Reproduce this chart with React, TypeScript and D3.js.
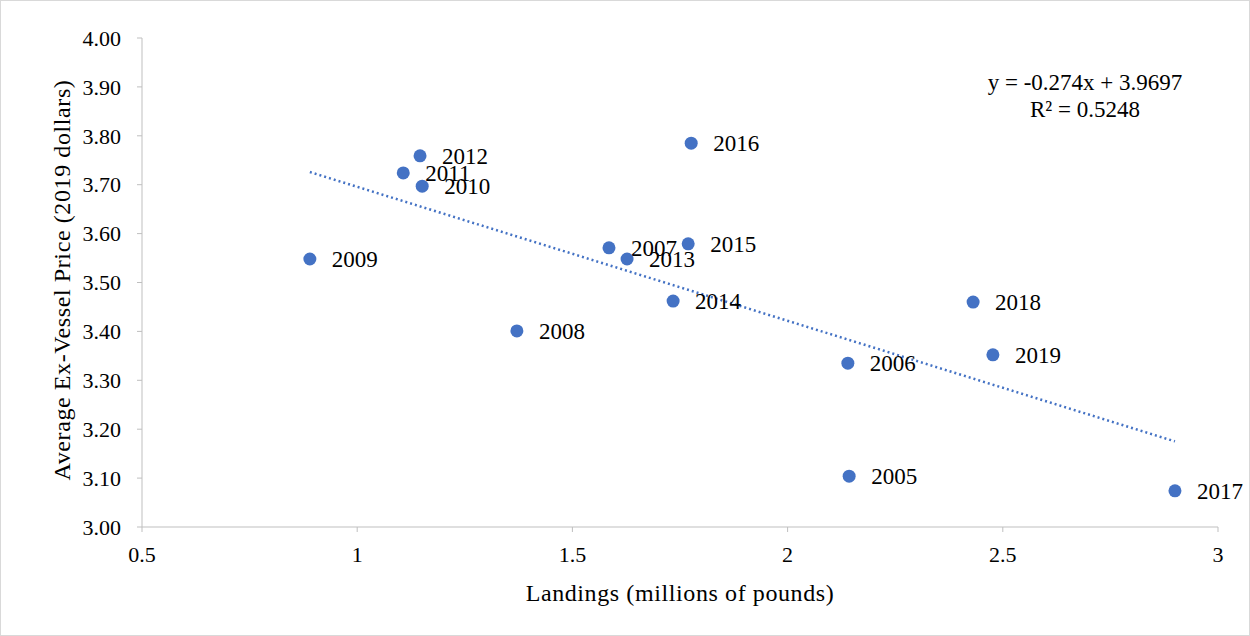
import * as d3 from 'd3';

const years = ['2005','2006','2007','2008','2009','2010','2011','2012','2013','2014','2015','2016','2017','2018','2019'];
const landings = [2.143, 2.140, 1.585, 1.371, 0.890, 1.151, 1.107, 1.146, 1.627, 1.734, 1.769, 1.776, 2.900, 2.431, 2.477];
const prices = [3.104, 3.335, 3.571, 3.401, 3.548, 3.697, 3.724, 3.759, 3.548, 3.462, 3.579, 3.785, 3.074, 3.460, 3.352];
const xTicks = [0.5, 1, 1.5, 2, 2.5, 3];
const yTicks = [3.0, 3.1, 3.2, 3.3, 3.4, 3.5, 3.6, 3.7, 3.8, 3.9, 4.0];
const slope = -0.274;
const intercept = 3.9697;

const W = 1250, H = 636;
const font = '"Liberation Serif", "Times New Roman", serif';

export default function App() {
  const x = d3.scaleLinear().domain([0.5, 3]).range([142, 1218]);
  const y = d3.scaleLinear().domain([3, 4]).range([527, 38]);
  const [x0, x1] = d3.extent(landings) as [number, number];
  const trend = d3.line<number>().x((v) => x(v)).y((v) => y(slope * v + intercept));
  return (
    <svg width={W} height={H} style={{ position: 'absolute', left: 0, top: 0 }} fontFamily={font}>
      <rect x={0.5} y={0.5} width={W - 1} height={H - 1} fill="#fff" stroke="#d9d9d9" />
      <line x1={142} x2={142} y1={38} y2={527} stroke="#bfbfbf" />
      <line x1={142} x2={1218} y1={527} y2={527} stroke="#bfbfbf" />
      {yTicks.map((t) => (
        <g key={t}>
          <line x1={137} x2={142} y1={y(t)} y2={y(t)} stroke="#bfbfbf" />
          <text x={121} y={y(t)} dy="0.35em" textAnchor="end" fontSize={22} fill="#000">{t.toFixed(2)}</text>
        </g>
      ))}
      {xTicks.map((t) => (
        <g key={t}>
          <line x1={x(t)} x2={x(t)} y1={527} y2={532} stroke="#bfbfbf" />
          <text x={x(t)} y={562} textAnchor="middle" fontSize={22}>{t}</text>
        </g>
      ))}
      <text x={680} y={601} textAnchor="middle" fontSize={24} letterSpacing={0.6}>Landings (millions of pounds)</text>
      <text transform="translate(70,280) rotate(-90)" textAnchor="middle" fontSize={24} letterSpacing={0.6}>Average Ex-Vessel Price (2019 dollars)</text>
      <path d={trend([x0, x1]) ?? ''} fill="none" stroke="#4472c4" strokeWidth={2.5} strokeDasharray="2 3" />
      {years.map((yr, i) => (
        <g key={yr}>
          <circle cx={x(landings[i])} cy={y(prices[i])} r={6.5} fill="#4472c4" />
          <text x={x(landings[i]) + 22} y={y(prices[i])} dy="0.35em" fontSize={23}>{yr}</text>
        </g>
      ))}
      <text x={1085} y={90} textAnchor="middle" fontSize={23}>y = -0.274x + 3.9697</text>
      <text x={1085} y={117} textAnchor="middle" fontSize={23}>R² = 0.5248</text>
    </svg>
  );
}
